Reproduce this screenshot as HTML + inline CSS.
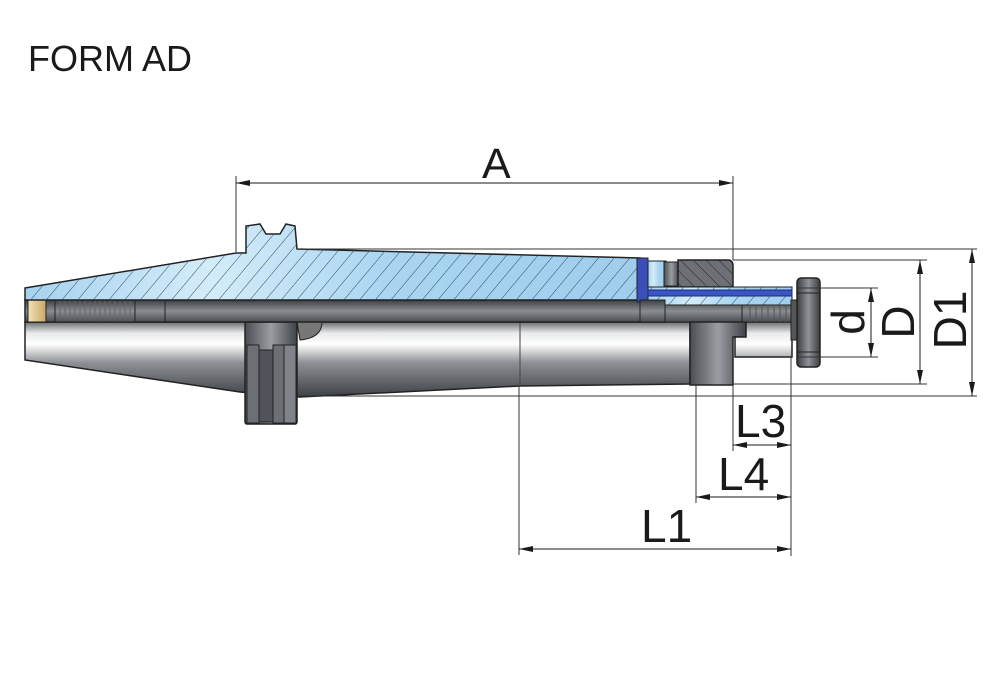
<!DOCTYPE html>
<html><head><meta charset="utf-8"><style>
html,body{margin:0;padding:0;background:#fff;}
svg{display:block;}
text{font-family:"Liberation Sans",Arial,sans-serif;fill:#1a1a1a;}
</style></head><body>
<svg width="1000" height="694" viewBox="0 0 1000 694" xmlns="http://www.w3.org/2000/svg">
<defs>
<linearGradient id="blue" x1="0" y1="0" x2="1" y2="0">
<stop offset="0" stop-color="#a6d2ee"/><stop offset="0.3" stop-color="#d4ecf8"/><stop offset="0.6" stop-color="#a9d5f0"/><stop offset="1" stop-color="#9fcdec"/>
</linearGradient>
<pattern id="hatch" width="12" height="12" patternUnits="userSpaceOnUse" patternTransform="rotate(40)">
<line x1="0" y1="0" x2="0" y2="12" stroke="#2d4a6e" stroke-width="1"/>
</pattern>
<pattern id="hatch2" width="9" height="9" patternUnits="userSpaceOnUse" patternTransform="rotate(-45)">
<line x1="0" y1="0" x2="0" y2="9" stroke="#222" stroke-width="1"/>
</pattern>
<linearGradient id="metal" x1="0" y1="322" x2="0" y2="396" gradientUnits="userSpaceOnUse">
<stop offset="0" stop-color="#6b6e72"/><stop offset="0.15" stop-color="#e8eaec"/><stop offset="0.3" stop-color="#ffffff"/><stop offset="0.55" stop-color="#8d9196"/><stop offset="1" stop-color="#3f4246"/>
</linearGradient>
<linearGradient id="bore" x1="0" y1="300" x2="0" y2="322" gradientUnits="userSpaceOnUse">
<stop offset="0" stop-color="#3d4044"/><stop offset="0.5" stop-color="#8a8e92"/><stop offset="1" stop-color="#4a4d51"/>
</linearGradient>
<linearGradient id="dark" x1="0" y1="0" x2="1" y2="0">
<stop offset="0" stop-color="#4a4d51"/><stop offset="0.5" stop-color="#9a9ea2"/><stop offset="1" stop-color="#3f4246"/>
</linearGradient>
<linearGradient id="knob" x1="0" y1="0" x2="1" y2="0">
<stop offset="0" stop-color="#3a3c40"/><stop offset="0.5" stop-color="#8f9397"/><stop offset="1" stop-color="#3a3c40"/>
</linearGradient>
<linearGradient id="gold" x1="0" y1="0" x2="1" y2="0">
<stop offset="0" stop-color="#f3e2b8"/><stop offset="1" stop-color="#c9a868"/>
</linearGradient>
<marker id="ar" viewBox="0 0 14 6" refX="14" refY="3" markerWidth="14" markerHeight="6" orient="auto" markerUnits="userSpaceOnUse">
<path d="M0,0 L14,3 L0,6 z" fill="#1a1a1a"/>
</marker>
</defs>

<text x="28" y="71" font-size="36">FORM AD</text>

<!-- lower metal body -->
<polygon points="25,322 690,322 690,384 520,386 300,397 240,392 25,360" fill="url(#metal)" stroke="#222" stroke-width="1.5"/>
<line x1="520" y1="322" x2="520" y2="386" stroke="#444" stroke-width="1"/>
<!-- flange lower -->
<rect x="245" y="322" width="52" height="102" rx="2" fill="url(#dark)" stroke="#222" stroke-width="1.5"/>
<rect x="247" y="345" width="12" height="78" fill="#6c7074" stroke="#222"/>
<rect x="259" y="350" width="14" height="72" fill="#50545a" stroke="#222"/>
<rect x="273" y="345" width="11" height="78" fill="#6c7074" stroke="#222"/>
<rect x="284" y="345" width="12" height="78" fill="#80848a" stroke="#222"/>
<path d="M297,322 L322,322 Q322,338 300,340 Z" fill="#777" stroke="#222"/>
<!-- bore -->
<rect x="25" y="300" width="640" height="22" fill="url(#bore)" stroke="#222" stroke-width="1.5"/>
<rect x="55" y="300" width="80" height="22" fill="url(#bore)" stroke="#222"/>
<g stroke="#666" stroke-width="1">
<line x1="60" y1="301" x2="60" y2="321"/><line x1="65" y1="301" x2="65" y2="321"/><line x1="70" y1="301" x2="70" y2="321"/><line x1="75" y1="301" x2="75" y2="321"/><line x1="80" y1="301" x2="80" y2="321"/><line x1="85" y1="301" x2="85" y2="321"/><line x1="90" y1="301" x2="90" y2="321"/><line x1="95" y1="301" x2="95" y2="321"/><line x1="100" y1="301" x2="100" y2="321"/><line x1="105" y1="301" x2="105" y2="321"/><line x1="110" y1="301" x2="110" y2="321"/><line x1="115" y1="301" x2="115" y2="321"/><line x1="120" y1="301" x2="120" y2="321"/><line x1="125" y1="301" x2="125" y2="321"/><line x1="130" y1="301" x2="130" y2="321"/>
</g>
<line x1="165" y1="300" x2="165" y2="322" stroke="#222"/>
<rect x="28" y="297" width="18" height="25" fill="url(#gold)" stroke="#222"/>

<!-- upper hatched section -->
<polygon points="25,288 236,253 246,253 246,226 260,224 266,234 280,234 286,224 295,226 297,249 640,258 640,300 25,300" fill="url(#blue)" stroke="#222" stroke-width="1.5"/>
<polygon points="25,288 236,253 246,253 246,226 260,224 266,234 280,234 286,224 295,226 297,249 640,258 640,300 25,300" fill="url(#hatch)"/>
<rect x="637" y="258" width="11" height="44" fill="#3b4fb8" stroke="#222"/>
<rect x="648" y="261" width="18" height="27" fill="url(#blue)" stroke="#222"/>
<rect x="664" y="262" width="15" height="24" fill="url(#dark)" stroke="#222"/>
<path d="M678,260 L728,260 Q733,260 733,266 L733,287 L678,287 Z" fill="#6d7175" stroke="#222" stroke-width="1.5"/>
<path d="M678,260 L728,260 Q733,260 733,266 L733,287 L678,287 Z" fill="url(#hatch2)"/>
<!-- blue sleeve -->
<rect x="648" y="287" width="144" height="18" fill="url(#blue)" stroke="#222"/>
<rect x="648" y="287" width="144" height="18" fill="url(#hatch)"/>
<rect x="648" y="290" width="144" height="6" fill="#3c55c4" stroke="#1b2a80" stroke-width="1"/>
<rect x="640" y="300" width="25" height="22" fill="url(#bore)" stroke="#222"/>
<rect x="665" y="305" width="80" height="17" fill="url(#bore)" stroke="#222"/>
<!-- collar -->
<path d="M690,322 L746,322 L746,337 L733,337 L733,385 L690,385 Z" fill="url(#dark)" stroke="#222" stroke-width="1.5"/>
<path d="M746,322 L792,322 L792,357 L735,357 L735,337 L746,337 Z" fill="url(#metal)" stroke="#222" stroke-width="1.5"/>
<!-- screw -->
<rect x="742" y="305" width="55" height="17" fill="url(#bore)" stroke="#222"/>
<g stroke="#555"><line x1="750" y1="305" x2="750" y2="322"/><line x1="756" y1="305" x2="756" y2="322"/><line x1="762" y1="305" x2="762" y2="322"/><line x1="768" y1="305" x2="768" y2="322"/><line x1="774" y1="305" x2="774" y2="322"/><line x1="780" y1="305" x2="780" y2="322"/><line x1="786" y1="305" x2="786" y2="322"/></g>
<rect x="791" y="300" width="8" height="40" fill="#555" stroke="#222"/>
<!-- knob -->
<rect x="797" y="278" width="23" height="89" rx="4" fill="url(#knob)" stroke="#222" stroke-width="1.5"/>
<line x1="797" y1="293" x2="820" y2="293" stroke="#222"/><line x1="797" y1="352" x2="820" y2="352" stroke="#222"/>

<!-- dimension lines -->
<g stroke="#333" stroke-width="1" fill="none">
<line x1="236" y1="176" x2="236" y2="252"/>
<line x1="733" y1="176" x2="733" y2="260"/>
<line x1="297" y1="249" x2="977" y2="249"/>
<line x1="733" y1="260" x2="927" y2="260"/>
<line x1="797" y1="288" x2="878" y2="288"/>
<line x1="797" y1="357" x2="878" y2="357"/>
<line x1="733" y1="384" x2="927" y2="384"/>
<line x1="300" y1="396" x2="977" y2="396"/>
<line x1="733" y1="385" x2="733" y2="451"/>
<line x1="696" y1="385" x2="696" y2="503"/>
<line x1="519" y1="386" x2="519" y2="555"/>
<line x1="791" y1="357" x2="791" y2="556"/>
</g>
<g stroke="#1a1a1a" stroke-width="1">
<line x1="300" y1="183" x2="236" y2="183" marker-end="url(#ar)"/>
<line x1="500" y1="183" x2="733" y2="183" marker-end="url(#ar)"/>
<line x1="300" y1="183" x2="500" y2="183"/>
<line x1="972" y1="320" x2="972" y2="249" marker-end="url(#ar)"/>
<line x1="972" y1="320" x2="972" y2="396" marker-end="url(#ar)"/>
<line x1="920" y1="322" x2="920" y2="260" marker-end="url(#ar)"/>
<line x1="920" y1="322" x2="920" y2="384" marker-end="url(#ar)"/>
<line x1="871" y1="322" x2="871" y2="288" marker-end="url(#ar)"/>
<line x1="871" y1="322" x2="871" y2="357" marker-end="url(#ar)"/>
<line x1="762" y1="445" x2="733" y2="445" marker-end="url(#ar)"/>
<line x1="762" y1="445" x2="791" y2="445" marker-end="url(#ar)"/>
<line x1="740" y1="497" x2="696" y2="497" marker-end="url(#ar)"/>
<line x1="740" y1="497" x2="791" y2="497" marker-end="url(#ar)"/>
<line x1="650" y1="549" x2="519" y2="549" marker-end="url(#ar)"/>
<line x1="650" y1="549" x2="791" y2="549" marker-end="url(#ar)"/>
</g>
<text x="482" y="178" font-size="43">A</text>
<text x="735" y="437" font-size="46">L3</text>
<text x="718" y="490" font-size="46">L4</text>
<text x="641" y="542" font-size="46">L1</text>
<text transform="translate(864,322) rotate(-90)" text-anchor="middle" font-size="46">d</text>
<text transform="translate(914,322) rotate(-90)" text-anchor="middle" font-size="46">D</text>
<text transform="translate(966,320) rotate(-90)" text-anchor="middle" font-size="46">D1</text>
</svg>
</body></html>
